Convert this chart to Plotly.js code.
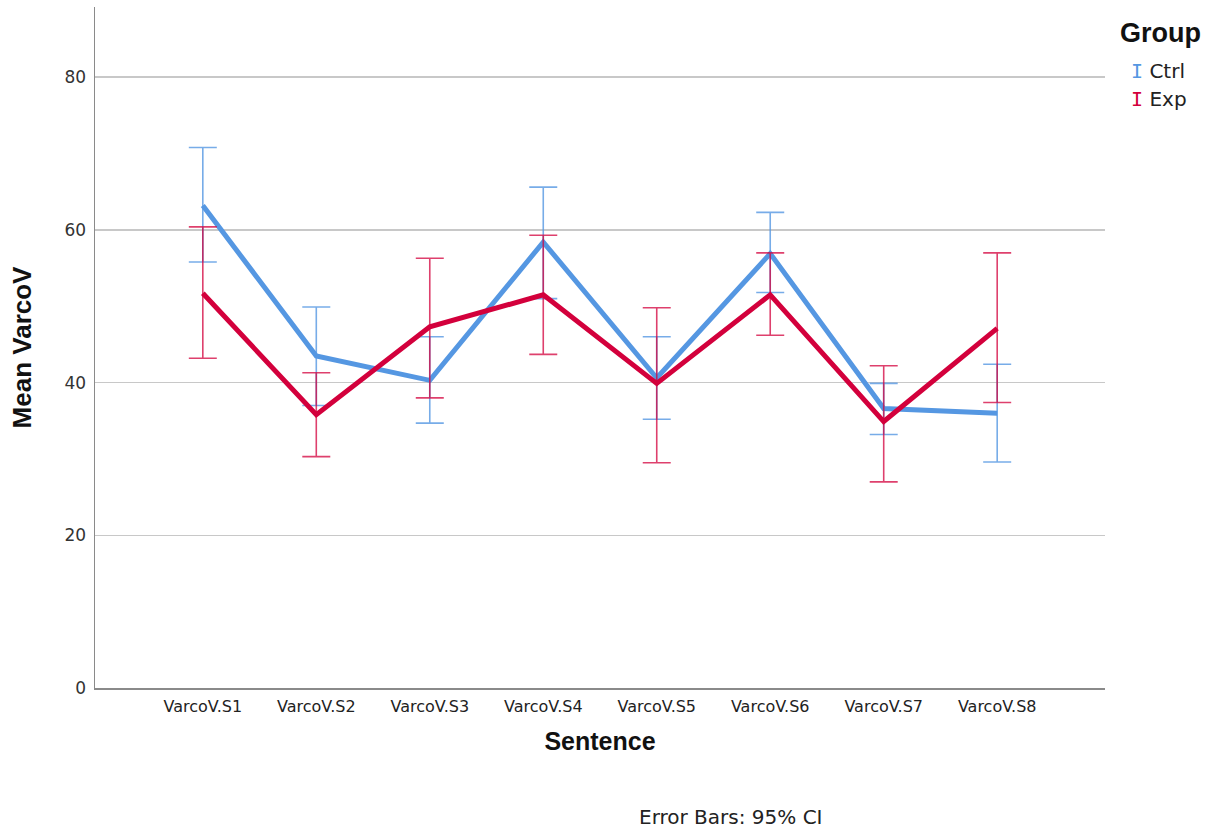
<!DOCTYPE html>
<html>
<head>
<meta charset="utf-8">
<script src="https://cdn.plot.ly/plotly-3.0.1.min.js"></script>
<style>html,body{margin:0;padding:0;background:#fff;}</style>
</head>
<body>
<div id="chart" style="width:1217px;height:828px;"></div>
<script>
const categories = ["VarcoV.S1","VarcoV.S2","VarcoV.S3","VarcoV.S4","VarcoV.S5","VarcoV.S6","VarcoV.S7","VarcoV.S8"];
const ctrlMean  = [63.2, 43.5, 40.3, 58.4, 40.6, 56.9, 36.6, 36.0];
const ctrlUpper = [70.8, 49.9, 46.0, 65.6, 46.0, 62.3, 39.9, 42.4];
const ctrlLower = [55.8, 37.0, 34.7, 51.0, 35.2, 51.8, 33.2, 29.6];
const expMean   = [51.7, 35.8, 47.3, 51.5, 39.9, 51.5, 34.9, 47.1];
const expUpper  = [60.4, 41.3, 56.3, 59.3, 49.8, 57.0, 42.2, 57.0];
const expLower  = [43.2, 30.3, 38.0, 43.7, 29.5, 46.2, 27.0, 37.4];
const yTicks = [0, 20, 40, 60, 80];

const ctrlColor = '#5597e2';
const expColor = '#d3003c';

function trace(name, mean, up, lo, color, barColor) {
  return {
    type: 'scatter', mode: 'lines', name: name,
    x: categories, y: mean,
    line: {color: color, width: 5},
    error_y: {
      type: 'data', symmetric: false,
      array: up.map((u, i) => u - mean[i]),
      arrayminus: lo.map((l, i) => mean[i] - l),
      color: barColor, thickness: 1.6, width: 14
    },
    showlegend: false, hoverinfo: 'skip'
  };
}

const data = [
  trace('Ctrl', ctrlMean, ctrlUpper, ctrlLower, ctrlColor, 'rgba(85,151,226,0.8)'),
  trace('Exp', expMean, expUpper, expLower, expColor, 'rgba(211,0,60,0.75)')
];

const iStyle = 'font-family:DejaVu Sans Mono;color:';

const layout = {
  width: 1217, height: 828,
  margin: {l: 95, r: 112, t: 7, b: 140},
  paper_bgcolor: '#fff', plot_bgcolor: '#fff',
  font: {family: 'DejaVu Sans, sans-serif', color: '#222'},
  xaxis: {
    type: 'category', range: [-0.95, 7.95],
    showgrid: false, zeroline: false,
    showline: true, linecolor: '#8a8a8a', linewidth: 1.5,
    ticks: '', ticklabelstandoff: 3,
    tickfont: {size: 16, color: '#222', family: 'DejaVu Sans, sans-serif'},
    title: {text: '<b>Sentence</b>', font: {size: 25, color: '#111', family: 'Liberation Sans, sans-serif'}, standoff: 18}
  },
  yaxis: {
    range: [0, 89.2], tickvals: yTicks, ticktext: yTicks.map(String),
    showgrid: true, gridcolor: '#c8c8c8', gridwidth: 1.5, zeroline: false,
    showline: true, linecolor: '#8a8a8a', linewidth: 1.5,
    ticks: '', ticklabelstandoff: 4,
    tickfont: {size: 17, color: '#333', family: 'DejaVu Sans, sans-serif'},
    title: {text: '<b>Mean VarcoV</b>', font: {size: 26, color: '#111', family: 'Liberation Sans, sans-serif'}, standoff: 25}
  },
  annotations: [
    {xref: 'paper', yref: 'paper', x: 1.013, y: 0.962, xanchor: 'left', yanchor: 'middle', showarrow: false,
     text: '<b>Group</b>', font: {size: 27, color: '#111', family: 'Liberation Sans, sans-serif'}},
    {xref: 'paper', yref: 'paper', x: 1.024, y: 0.906, xanchor: 'left', yanchor: 'middle', showarrow: false,
     text: '<span style="' + iStyle + ctrlColor + '">I</span> Ctrl', font: {size: 20, color: '#222', family: 'DejaVu Sans, sans-serif'}},
    {xref: 'paper', yref: 'paper', x: 1.024, y: 0.865, xanchor: 'left', yanchor: 'middle', showarrow: false,
     text: '<span style="' + iStyle + expColor + '">I</span> Exp', font: {size: 20, color: '#222', family: 'DejaVu Sans, sans-serif'}},
    {xref: 'paper', yref: 'paper', x: 0.63, y: -0.189, xanchor: 'center', yanchor: 'middle', showarrow: false,
     text: 'Error Bars: 95% CI', font: {size: 20, color: '#222', family: 'DejaVu Sans, sans-serif'}}
  ]
};

Plotly.newPlot('chart', data, layout, {displayModeBar: false, staticPlot: true});
</script>
</body>
</html>
